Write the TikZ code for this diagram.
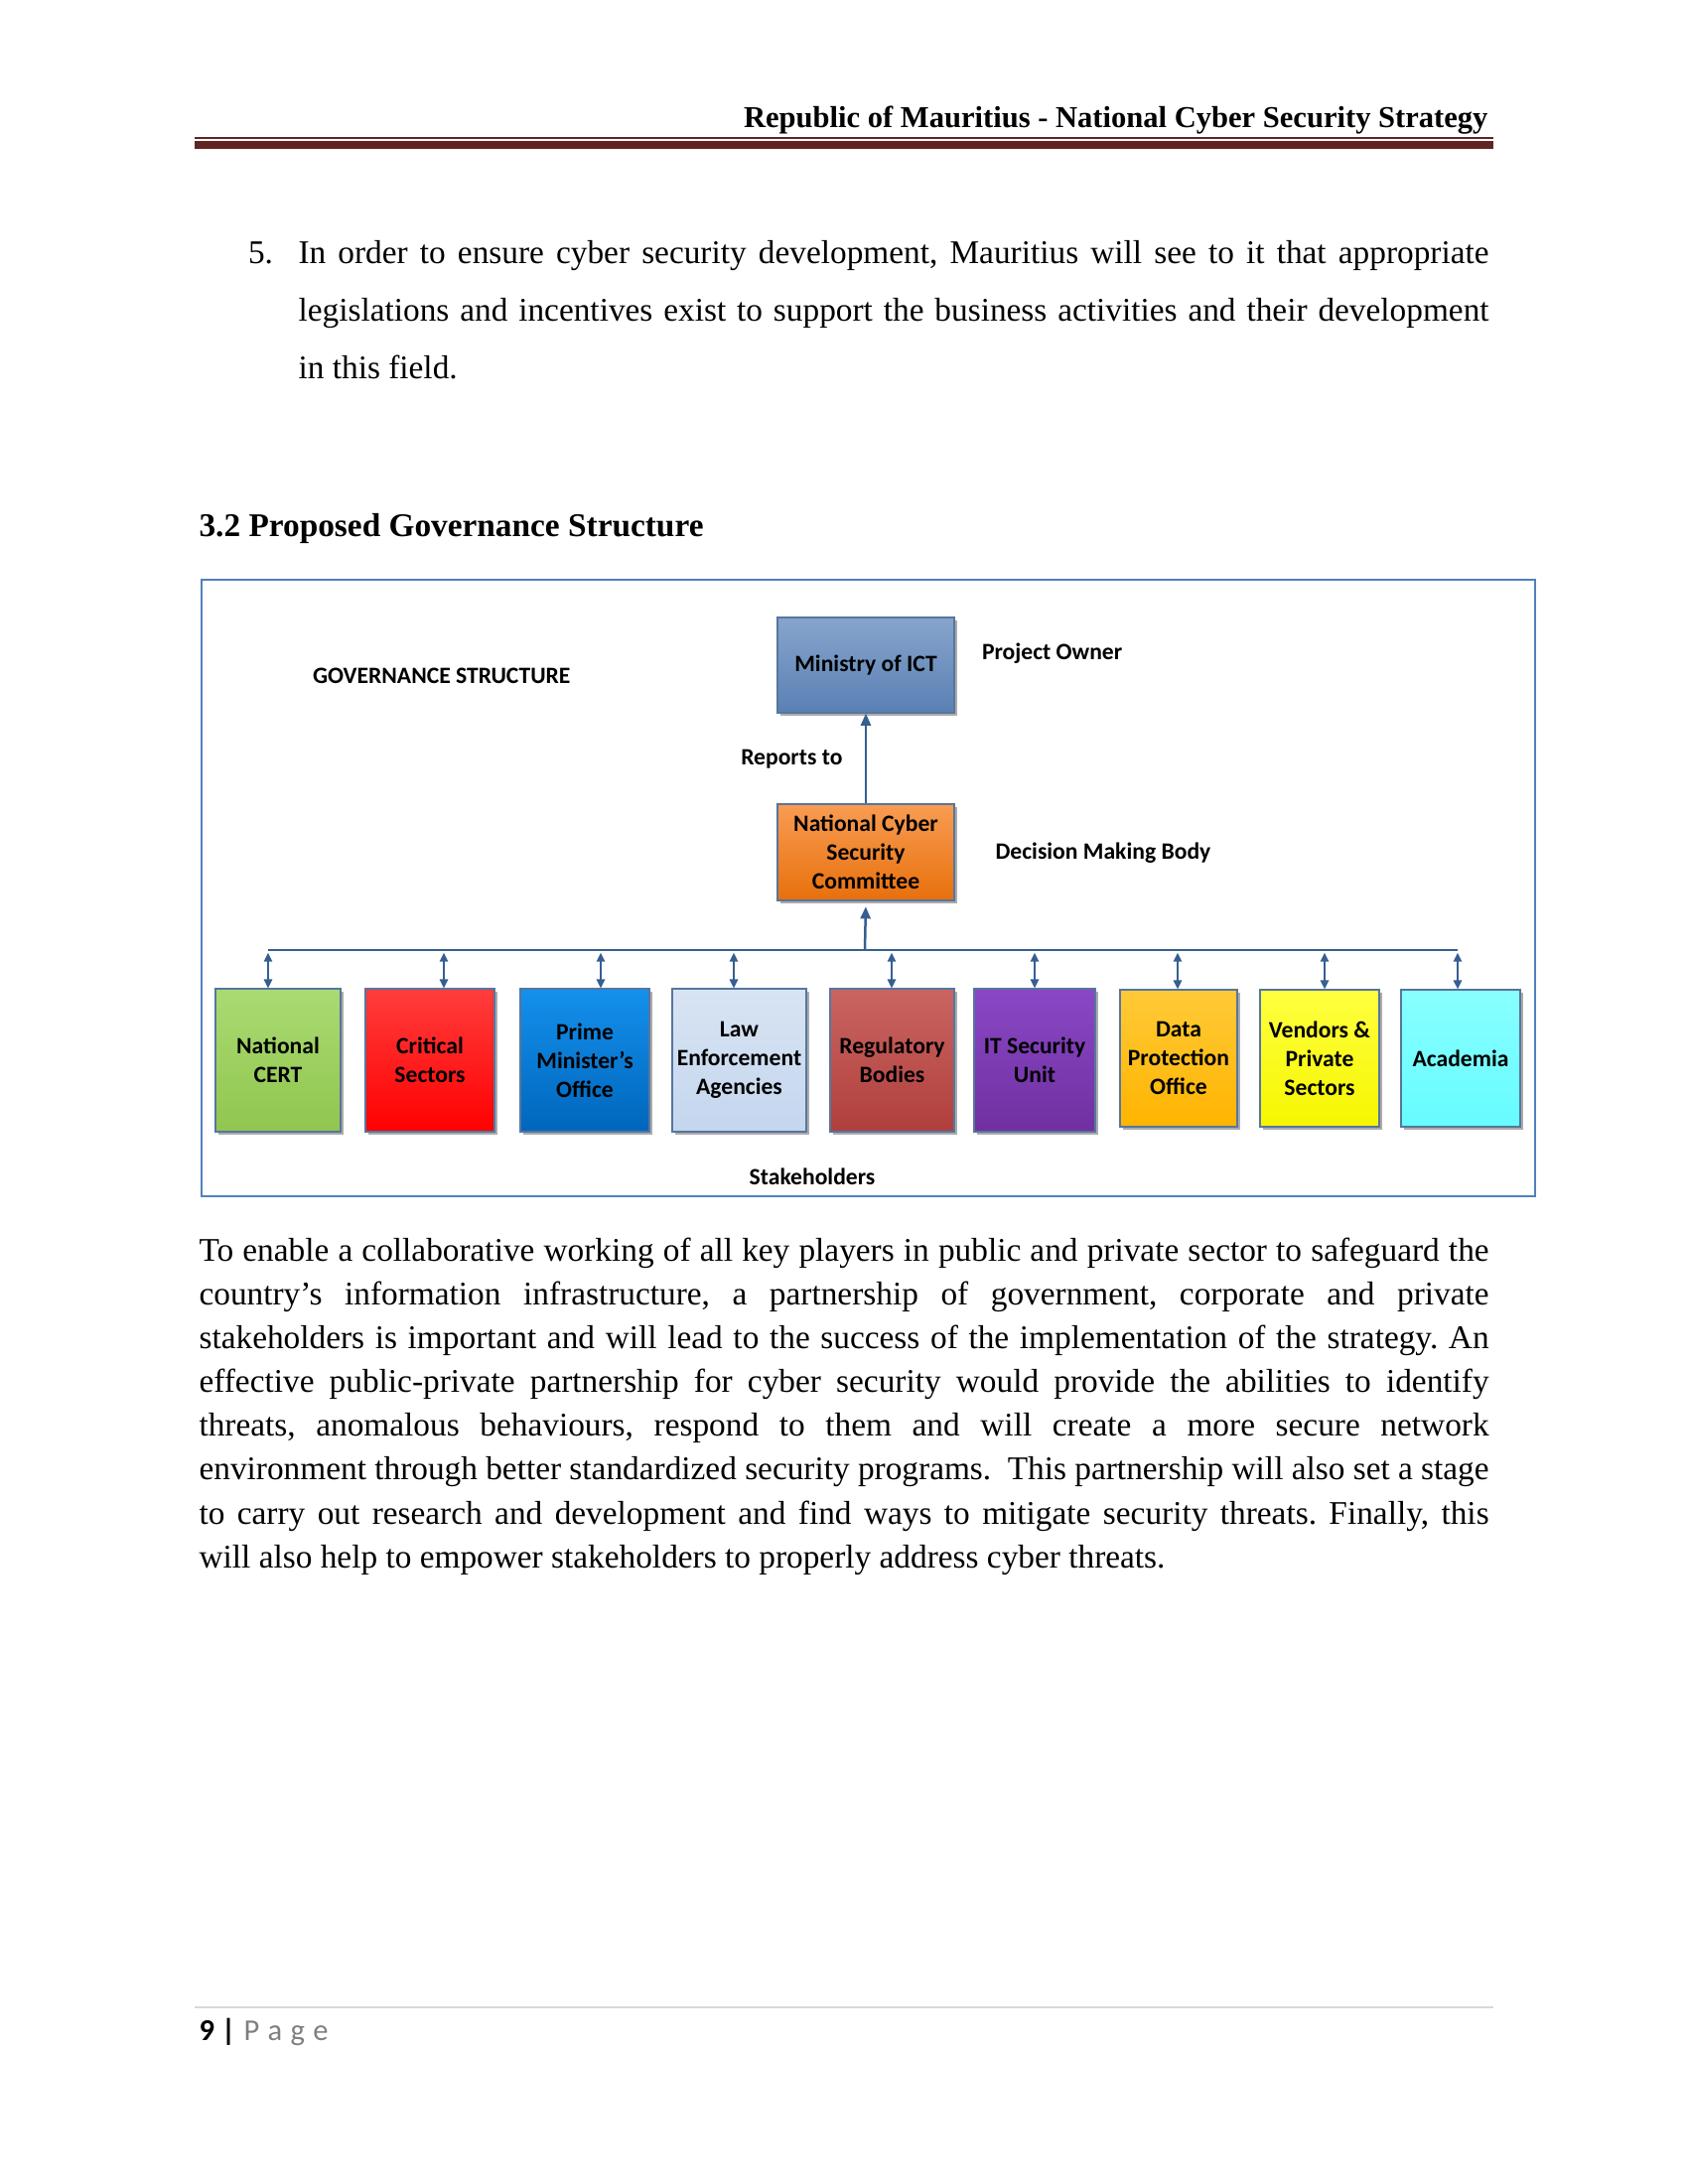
\documentclass[tikz,border=0pt]{standalone}
\usepackage{fontspec}
\setmainfont{Liberation Serif}
\newfontfamily\calfont{Carlito}
\usetikzlibrary{arrows.meta,shadows}
\frenchspacing
\definecolor{hdrred}{HTML}{622423}
\definecolor{framecol}{HTML}{4F81BD}
\definecolor{connblue}{HTML}{365F91}
\definecolor{boxedge}{HTML}{56769E}
\definecolor{footgray}{HTML}{7F7F7F}
\definecolor{footline}{HTML}{D9D9D9}
\definecolor{minT}{HTML}{87A5CC}\definecolor{minB}{HTML}{5A80B4}
\definecolor{ncT}{HTML}{F89C52}\definecolor{ncB}{HTML}{E8700C}
\definecolor{certT}{HTML}{AADA72}\definecolor{certB}{HTML}{90C64E}
\definecolor{critT}{HTML}{FF3D3D}\definecolor{critB}{HTML}{FF0000}
\definecolor{pmoT}{HTML}{1490EC}\definecolor{pmoB}{HTML}{0066BC}
\definecolor{lawT}{HTML}{D8E4F3}\definecolor{lawB}{HTML}{C4D6EE}
\definecolor{regT}{HTML}{CA6562}\definecolor{regB}{HTML}{B03F3C}
\definecolor{itT}{HTML}{8A47C6}\definecolor{itB}{HTML}{7030A0}
\definecolor{dpoT}{HTML}{FFCA38}\definecolor{dpoB}{HTML}{FFB400}
\definecolor{venT}{HTML}{FFFF40}\definecolor{venB}{HTML}{F6F600}
\definecolor{acaT}{HTML}{88FFFF}\definecolor{acaB}{HTML}{66FCFF}
\begin{document}
\begin{tikzpicture}[x=0.36pt,y=-0.36pt,
  govbox/.style={draw=boxedge, line width=0.45pt, inner sep=0pt, align=center,
    font=\calfont\bfseries\fontsize{8.5}{10.4}\selectfont,
    drop shadow={shadow xshift=0.9pt, shadow yshift=-0.9pt, fill=black!60, opacity=0.55}},
  boxsize/.style 2 args={minimum width=#1*0.36pt, minimum height=#2*0.36pt},
  grad/.style 2 args={top color=#1, bottom color=#2},
  lbl/.style={inner sep=0pt, font=\calfont\bfseries\fontsize{8.5}{10.4}\selectfont},
  para/.style={inner sep=0pt, anchor=base west, font=\fontsize{12}{14}\selectfont},
  conn/.style={draw=connblue, line width=0.9pt},
  bigtip/.style={-{Triangle[width=3.6pt,length=4.4pt]}},
  dbltip/.style={{Triangle[width=3pt,length=3.2pt]}-{Triangle[width=3pt,length=3.2pt]}}
]
\useasboundingbox (0,0) rectangle (1700,2200);

% header
\node[inner sep=0pt, anchor=base east, font=\bfseries\fontsize{11}{13}\selectfont] (hdr) at (1499,129) {Republic of Mauritius - National Cyber Security Strategy};
\draw[hdrred, line width=0.5pt] (196,139) -- (1504,139);
\draw[hdrred, line width=3pt] (196,145.8) -- (1504,145.8);

% item 5
\node[para] (n5) at (249.5,266) {5.};
\node[para] (i1) at (300,266) {\hbox to 431.64pt{In order to ensure cyber security development, Mauritius will see to it that appropriate}};
\node[para] (i2) at (300,323.6) {\hbox to 431.64pt{legislations and incentives exist to support the business activities and their development}};
\node[para] (i3) at (300,381.2) {in this field.};

% section heading
\node[para, font=\bfseries\fontsize{12}{14}\selectfont] (sec) at (200,540) {3.2 Proposed Governance Structure};

% frame
\draw[framecol, line width=0.9pt] (203,584) rectangle (1546,1205);

% labels
\node[lbl, anchor=base west] (gov) at (314.5,688.5) {GOVERNANCE STRUCTURE};
\node[lbl, anchor=base west] (po) at (988.5,664) {Project Owner};
\node[lbl, anchor=base east] (rep) at (849,770) {Reports to};
\node[lbl, anchor=base west] (dmb) at (1002,865.5) {Decision Making Body};
\node[lbl, anchor=base] (stk) at (818,1193) {Stakeholders};

% top boxes
\node[govbox, boxsize={178}{96}, grad={minT}{minB}] (min) at (872,670) {Ministry of ICT};
\node[govbox, boxsize={178}{97}, grad={ncT}{ncB}] (ncsc) at (872,858.5) {National Cyber\\Security\\Committee};

% stakeholder boxes
\node[govbox, boxsize={126}{144}, grad={certT}{certB}] (cert) at (280,1068) {National\\CERT};
\node[govbox, boxsize={130}{144}, grad={critT}{critB}] (crit) at (433,1068) {Critical\\Sectors};
\node[govbox, boxsize={130}{144}, grad={pmoT}{pmoB}] (pmo) at (589,1068) {Prime\\Minister’s\\Office};
\node[govbox, boxsize={135}{144}, grad={lawT}{lawB}] (law) at (744.5,1068) {Law\\Enforcement\\Agencies};
\node[govbox, boxsize={125}{144}, grad={regT}{regB}] (reg) at (898.5,1068) {Regulatory\\Bodies};
\node[govbox, boxsize={122}{144}, grad={itT}{itB}] (itsu) at (1042,1068) {IT Security\\Unit};
\node[govbox, boxsize={118}{138}, grad={dpoT}{dpoB}] (dpo) at (1187,1066) {Data\\Protection\\Office};
\node[govbox, boxsize={120}{138}, grad={venT}{venB}] (ven) at (1329,1066) {Vendors \&\\Private\\Sectors};
\node[govbox, boxsize={120}{138}, grad={acaT}{acaB}] (aca) at (1471,1066) {Academia};

% connectors
\coordinate (b1) at (270,957);
\coordinate (b2) at (447,957);
\coordinate (b3) at (605,957);
\coordinate (b4) at (739,957);
\coordinate (b5) at (898,957);
\coordinate (b6) at (1042,957);
\coordinate (b7) at (1186,957);
\coordinate (b8) at (1334,957);
\coordinate (b9) at (1468,957);
\coordinate (bc) at (871,957);
\draw[conn] (b1) -- (b9);
\draw[conn, bigtip] (ncsc.north) -- (min.south);
\draw[conn, bigtip, shorten >=2pt] (bc) -- (ncsc.south);
\draw[conn, line width=0.6pt, dbltip, shorten <=1pt] (b1) -- (b1 |- cert.north);
\draw[conn, line width=0.6pt, dbltip, shorten <=1pt] (b2) -- (b2 |- crit.north);
\draw[conn, line width=0.6pt, dbltip, shorten <=1pt] (b3) -- (b3 |- pmo.north);
\draw[conn, line width=0.6pt, dbltip, shorten <=1pt] (b4) -- (b4 |- law.north);
\draw[conn, line width=0.6pt, dbltip, shorten <=1pt] (b5) -- (b5 |- reg.north);
\draw[conn, line width=0.6pt, dbltip, shorten <=1pt] (b6) -- (b6 |- itsu.north);
\draw[conn, line width=0.6pt, dbltip, shorten <=1pt] (b7) -- (b7 |- dpo.north);
\draw[conn, line width=0.6pt, dbltip, shorten <=1pt] (b8) -- (b8 |- ven.north);
\draw[conn, line width=0.6pt, dbltip, shorten <=1pt] (b9) -- (b9 |- aca.north);

% paragraph
\node[para] (p1) at (200,1270.5) {\hbox to 467.64pt{To enable a collaborative working of all key players in public and private sector to safeguard the}};
\node[para] (p2) at (200,1314.6) {\hbox to 467.64pt{country’s information infrastructure, a partnership of government, corporate and private}};
\node[para] (p3) at (200,1358.7) {\hbox to 467.64pt{stakeholders is important and will lead to the success of the implementation of the strategy. An}};
\node[para] (p4) at (200,1402.7) {\hbox to 467.64pt{effective public-private partnership for cyber security would provide the abilities to identify}};
\node[para] (p5) at (200,1446.8) {\hbox to 467.64pt{threats, anomalous behaviours, respond to them and will create a more secure network}};
\node[para] (p6) at (200,1490.9) {\hbox to 467.64pt{environment through better standardized security programs.\ \ This partnership will also set a stage}};
\node[para] (p7) at (200,1535.0) {\hbox to 467.64pt{to carry out research and development and find ways to mitigate security threats. Finally, this}};
\node[para] (p8) at (200,1579.1) {will also help to empower stakeholders to properly address cyber threats.};

% footer
\draw[footline, line width=0.6pt] (196,2022) -- (1504,2022);
\node[inner sep=0pt, anchor=base west, font=\calfont\bfseries\fontsize{11}{13}\selectfont] (pg) at (200,2055) {9 |};
\node[inner sep=0pt, anchor=base west, font=\calfont\fontsize{11}{13}\selectfont, text=footgray] (pw) at (245,2055) {P\hspace{3pt}a\hspace{3pt}g\hspace{3pt}e};
\end{tikzpicture}
\end{document}
